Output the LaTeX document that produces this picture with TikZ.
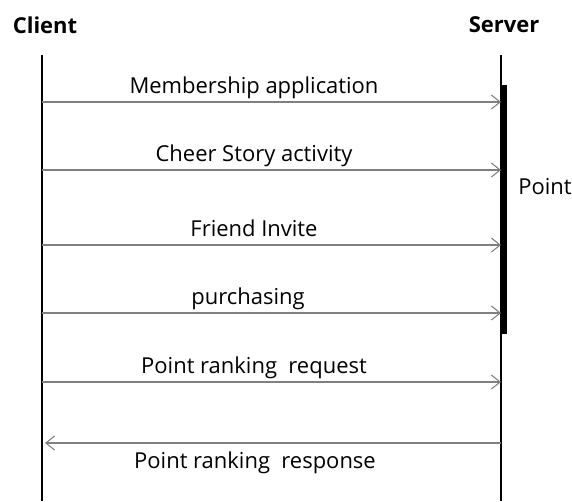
\documentclass[tikz,border=0pt]{standalone}
\usepackage{fontspec}
\setmainfont{Open Sans}
\usetikzlibrary{arrows.meta,positioning}

\tikzset{
  lifeline/.style={line width=1.5pt},
  msg/.style={gray,line width=0.6pt},
  lbl/.style={font=\fontsize{12.5}{14}\selectfont,anchor=base,inner sep=0pt},
  actor/.style={font=\fontsize{12.5}{14}\selectfont\bfseries,inner sep=0pt}
}

\begin{document}
\begin{tikzpicture}[x=0.02cm,y=-0.02cm,>={Straight Barb[length=5pt,width=8pt]}]
  \useasboundingbox (0,0) rectangle (572,501);
  % actors
  \node[actor] (client) at (45,25) {Client};
  \node[actor] (server) at (504,25) {Server};
  \coordinate (CT) at (42,55);  \coordinate (CB) at (42,501);
  \coordinate (ST) at (501,55); \coordinate (SB) at (501,501);
  \draw[lifeline] (CT) -- (CB);
  \draw[lifeline] (ST) -- (SB);
  % activation bar
  \fill (501,85) rectangle (507,334);
  \node[font=\fontsize{12.5}{14}\selectfont,inner sep=0pt] (point) at (545,187) {Point};
  % requests
  \foreach \y/\x/\txt [count=\i] in {102/254/Membership application,
      170/254/Cheer Story activity, 245/254/Friend Invite,
      313/248/purchasing, 382/254/{Point ranking\ \ request}} {
    \coordinate (c\i) at (42,\y);
    \coordinate (s\i) at (501,\y);
    \draw[msg,->] (c\i) -- (s\i);
    \node[lbl] (m\i) at (\x,\y-9) {\txt};
  }
  % response
  \coordinate (sr) at (501,443);
  \coordinate (cr) at (45,443);
  \draw[msg,->] (sr) -- (cr);
  \node[lbl] (resp) at (255,468) {Point ranking\ \ response};
\end{tikzpicture}
\end{document}
